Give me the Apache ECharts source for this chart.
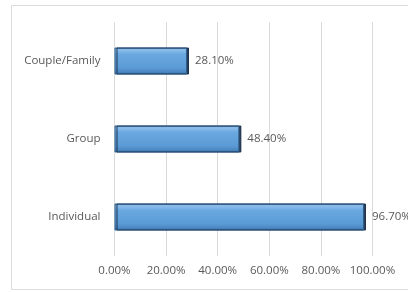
<!DOCTYPE html>
<html><head><meta charset="utf-8">
<script src="https://cdn.jsdelivr.net/npm/echarts@6/dist/echarts.min.js"></script>
<style>html,body{margin:0;padding:0;background:#fff}#c{width:408px;height:292px}</style>
</head><body><div id="c"></div>
<script>
var categories = ['Individual', 'Group', 'Couple/Family'];
var values = [96.7, 48.4, 28.1];
var xTicks = [0, 20, 40, 60, 80, 100];

var FONT = 'Open Sans, Liberation Sans, Arial, sans-serif';
var chart = echarts.init(document.getElementById('c'), null, {renderer: 'canvas'});
chart.setOption({
  animation: false,
  backgroundColor: '#ffffff',
  graphic: [{
    type: 'rect', left: 11, top: 5, z: -1,
    shape: {width: 420, height: 284},
    style: {fill: '#ffffff', stroke: '#dcdcdc', lineWidth: 1}
  }],
  grid: {left: 114.5, right: 35.5, top: 22, bottom: 36},
  xAxis: {
    type: 'value', min: 0, max: 100, interval: 20,
    axisLine: {show: false}, axisTick: {show: false},
    splitLine: {show: true, lineStyle: {color: '#d9d9d9', width: 1}},
    axisLabel: {color: '#595959', fontSize: 11.5, fontFamily: FONT, margin: 9,
      formatter: function (v) { return v.toFixed(2) + '%'; }}
  },
  yAxis: {
    type: 'category', data: categories,
    axisLine: {show: false}, axisTick: {show: false},
    axisLabel: {color: '#595959', fontSize: 11.5, fontFamily: FONT, margin: 14}
  },
  series: [{
    type: 'bar', data: values, barWidth: 27,
    itemStyle: {
      color: new echarts.graphic.LinearGradient(0, 0, 0, 1, [
        {offset: 0, color: '#3f6f9f'},
        {offset: 0.08, color: '#8fc0ec'},
        {offset: 0.25, color: '#6aa8e0'},
        {offset: 0.75, color: '#5b9bd5'},
        {offset: 0.92, color: '#4a86c0'},
        {offset: 1, color: '#2c5580'}
      ]),
      borderColor: '#2f5f8c', borderWidth: 1,
      shadowColor: 'rgba(20,40,70,0.9)', shadowOffsetX: 2, shadowBlur: 0
    },
    label: {show: true, position: 'right', distance: 8, color: '#595959', fontSize: 11.5,
      fontFamily: FONT,
      formatter: function (p) { return p.value.toFixed(2) + '%'; }}
  }]
});
</script></body></html>
